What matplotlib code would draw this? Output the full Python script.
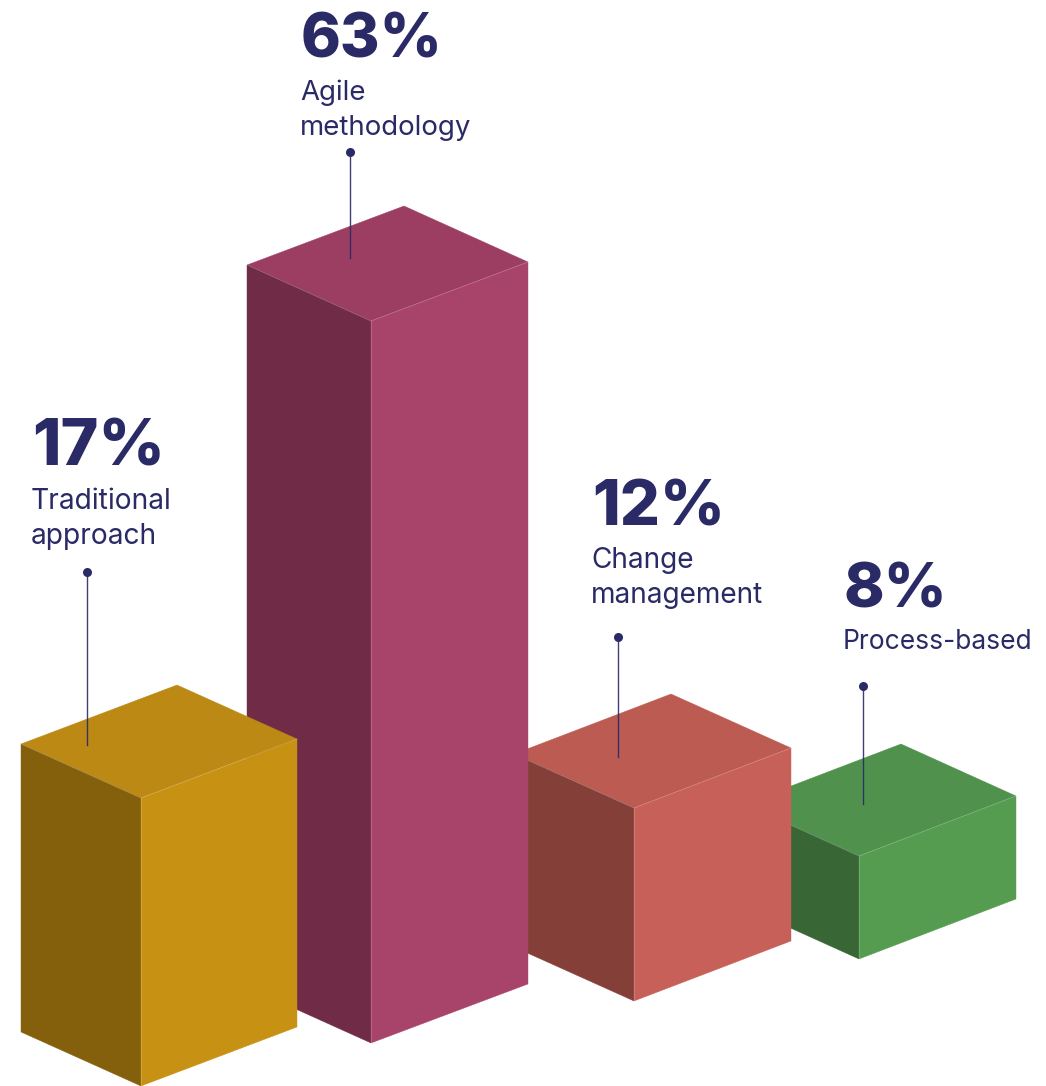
import matplotlib
matplotlib.use("Agg")
import matplotlib.pyplot as plt
from matplotlib.patches import Polygon

# values
categories = ["Traditional\napproach", "Agile\nmethodology", "Change\nmanagement", "Process-based"]
shares = [17, 63, 12, 8]
bar_heights = [288, 722, 193, 103]  # drawn height of each column, not to scale with the share

# layout, in image pixels
front_top = [(141, 798), (371, 321), (634, 808), (859, 856)]
left_edge = [(-120, -54), (-124, -56), (-120, -54), (-115, -52)]
right_edge = [(156, -59), (157, -59), (157, -60), (157, -60)]
text_x = [32, 301, 592, 844]
share_y = [466, 57, 525, 607]
label_y = [509, 100, 568, 649]
pointer_x = [87, 350, 618, 863]
pointer_top = [572, 152, 637, 686]
pointer_end = [745, 258, 757, 804]

# Inter runs a little off the original's widths, so sizes are set per column
share_size = [46.5, 43.5, 45.5, 44]
label_size = [20.3, 19.9, 20.2, 19.0]

# top, left, right face
face_colors = [
    ("#BC8914", "#85600C", "#C79213"),
    ("#9C3E62", "#702B47", "#A84469"),
    ("#BC5B51", "#843F38", "#C76058"),
    ("#50924D", "#386635", "#559C51"),
]
navy = "#2A2A66"

fig = plt.figure(figsize=(10.46, 10.86), dpi=100)
ax = fig.add_axes([0, 0, 1, 1])
ax.set_xlim(0, 1046)
ax.set_ylim(1086, 0)
ax.axis("off")


def draw_box(i, z):
    fx, fy = front_top[i]
    lx, ly = left_edge[i]
    rx, ry = right_edge[i]
    h = bar_heights[i]
    top, left, right = face_colors[i]
    l_pt = (fx + lx, fy + ly)
    r_pt = (fx + rx, fy + ry)
    back = (fx + lx + rx, fy + ly + ry)
    faces = [
        ([(fx, fy), l_pt, back, r_pt], top),
        ([(fx, fy), l_pt, (l_pt[0], l_pt[1] + h), (fx, fy + h)], left),
        ([(fx, fy), r_pt, (r_pt[0], r_pt[1] + h), (fx, fy + h)], right),
    ]
    for pts, color in faces:
        ax.add_patch(Polygon(pts, closed=True, fc=color, ec=color, lw=0.3, zorder=z))
    # thin pale seams where the faces meet
    seam = dict(color="white", alpha=0.2, lw=0.6, zorder=z + 0.5)
    ax.plot([l_pt[0], fx, r_pt[0]], [l_pt[1], fy, r_pt[1]], **seam)
    ax.plot([fx, fx], [fy, fy + h], **seam)


# back to front: green, red, magenta, gold
for z, i in enumerate([3, 2, 1, 0]):
    draw_box(i, z + 1)

for i in range(len(shares)):
    ax.text(text_x[i], share_y[i], f"{shares[i]}%", family="Inter", weight=800,
            fontsize=share_size[i], color=navy, va="baseline", ha="left", zorder=10)
    lines = categories[i].split("\n")
    for j, line in enumerate(lines):
        ax.text(text_x[i] - 1, label_y[i] + j * 35, line, family="Inter", weight=400,
                fontsize=label_size[i], color=navy, va="baseline", ha="left", zorder=10)
    ax.plot([pointer_x[i], pointer_x[i]], [pointer_top[i], pointer_end[i]],
            color=navy, lw=1.0, alpha=0.9, zorder=10)
    ax.plot(pointer_x[i], pointer_top[i], "o", color=navy, ms=6.5, mew=0, zorder=11)

fig.savefig("out.png", dpi=100, facecolor="white")
